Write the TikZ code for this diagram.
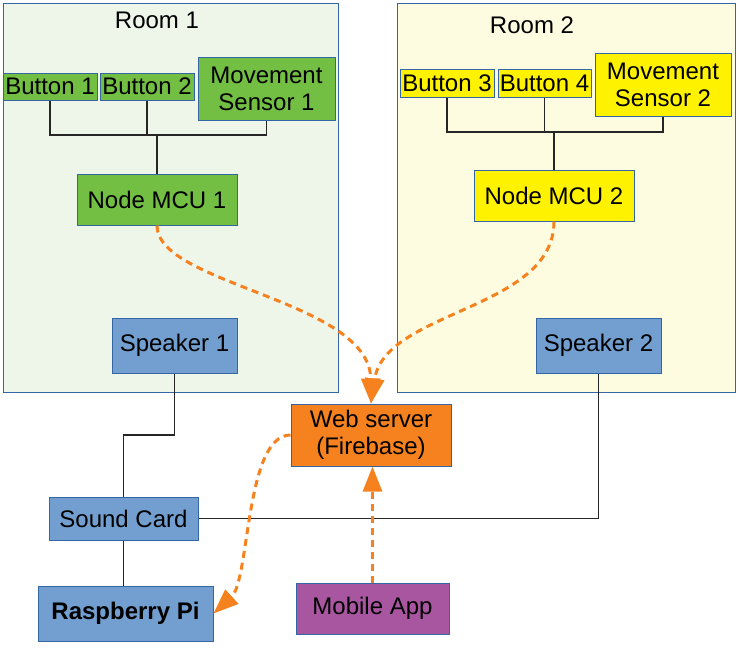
\documentclass[tikz,border=0pt]{standalone}
\usepackage{fontspec}
\setmainfont{Liberation Sans}
\usetikzlibrary{arrows.meta}
\definecolor{bordblue}{HTML}{3465A4}
\definecolor{roomgreen}{HTML}{EEF6EA}
\definecolor{roomyellow}{HTML}{FEFCE0}
\definecolor{devgreen}{HTML}{72BF44}
\definecolor{devyellow}{HTML}{FFF200}
\definecolor{devblue}{HTML}{729FCF}
\definecolor{devorange}{HTML}{F5821F}
\definecolor{devpurple}{HTML}{A956A1}
\tikzset{
  box/.style={draw=bordblue, line width=1pt, inner sep=0pt, align=center,
    font=\fontsize{24}{27}\selectfont},
  room/.style={draw=bordblue, line width=1pt, inner sep=0pt},
  wire/.style={draw=black!85, line width=1.1pt},
  flow/.style={draw=devorange, line width=3pt, dash pattern=on 7pt off 5pt,
    -{Triangle[length=25pt,width=19pt]}, fill=none},
}
\begin{document}
\begin{tikzpicture}[x=1pt,y=-1pt]
\useasboundingbox (0,0) rectangle (745,649);
% rooms
\node[room, fill=roomgreen, minimum width=335pt, minimum height=389pt] (room1) at (170.5,197.5) {};
\node[room, fill=roomyellow, minimum width=338pt, minimum height=389pt] (room2) at (566,197.5) {};
\node[font=\fontsize{24}{27}\selectfont, inner sep=0pt] (r1lab) at (157,20) {Room 1};
\node[font=\fontsize{24}{27}\selectfont, inner sep=0pt] (r2lab) at (532,25) {Room 2};
% room 1 devices
\node[box, fill=devgreen, minimum width=94pt, minimum height=27pt] (b1) at (50,86.5) {Button 1};
\node[box, fill=devgreen, minimum width=94pt, minimum height=27pt] (b2) at (147,86.5) {Button 2};
\node[box, fill=devgreen, minimum width=137pt, minimum height=63pt] (ms1) at (266.5,88.5) {Movement\\Sensor 1};
\node[box, fill=devgreen, minimum width=160pt, minimum height=51pt] (mcu1) at (157,199.5) {Node MCU 1};
% room 2 devices
\node[box, fill=devyellow, minimum width=94pt, minimum height=28pt] (b3) at (447,83) {Button 3};
\node[box, fill=devyellow, minimum width=93pt, minimum height=28pt] (b4) at (544.5,83) {Button 4};
\node[box, fill=devyellow, minimum width=136pt, minimum height=63pt] (ms2) at (663,84.5) {Movement\\Sensor 2};
\node[box, fill=devyellow, minimum width=160pt, minimum height=51pt] (mcu2) at (554,195.5) {Node MCU 2};
% speakers
\node[box, fill=devblue, minimum width=125pt, minimum height=55pt] (spk1) at (174.5,345.5) {Speaker 1};
\node[box, fill=devblue, minimum width=125pt, minimum height=55pt] (spk2) at (598.5,345.5) {Speaker 2};
% others
\node[box, fill=devorange, minimum width=160pt, minimum height=62pt] (web) at (371,435) {Web server\\(Firebase)};
\node[box, fill=devblue, minimum width=149pt, minimum height=43pt] (sc) at (123.5,518.5) {Sound Card};
\node[box, fill=devblue, minimum width=175pt, minimum height=55pt, font=\fontsize{24}{27}\selectfont\bfseries] (rpi) at (125.5,613.5) {Raspberry Pi};
\node[box, fill=devpurple, minimum width=153pt, minimum height=51pt] (mob) at (372.5,608.5) {Mobile App};
% buses
\coordinate (bus1) at (157,135);
\coordinate (bus2) at (554,132);
\draw[wire] (b1.south) |- (bus1) -| (ms1.south);
\draw[wire] (b2.south) -- (b2.south |- bus1);
\draw[wire] (bus1) -- (mcu1.north);
\draw[wire] (b3.south) |- (bus2) -| (ms2.south);
\draw[wire] (b4.south) -- (b4.south |- bus2);
\draw[wire] (bus2) -- (mcu2.north);
% audio wiring
\coordinate (j1) at (150,435);
\draw[wire] (spk1.south) |- (j1) -| (sc.north);
\draw[wire] (sc.south) -- (sc.south |- rpi.north);
\draw[wire] (sc.east) -| (spk2.south);
% data flows
\draw[flow] (mcu1.south) .. controls (157,285) and (370,300) .. (web.north);
\draw[flow] (mcu2.south) .. controls (554,310) and (385,310) .. (web.north);
\draw[flow] (web.west) .. controls (245,435) and (250,580) .. (rpi.east);
\draw[flow] (mob.north) -- (mob.north |- web.south);
\end{tikzpicture}
\end{document}
